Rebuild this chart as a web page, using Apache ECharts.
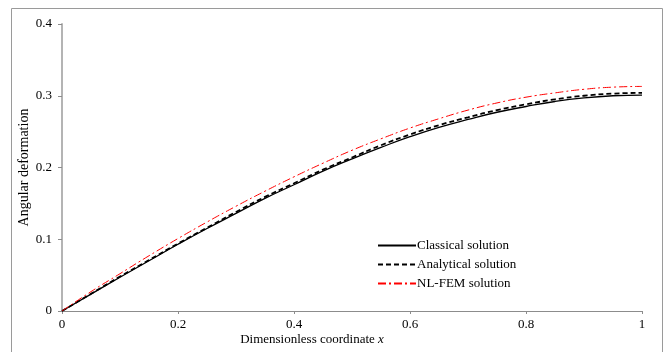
<!DOCTYPE html>
<html>
<head>
<meta charset="utf-8">
<script src="https://cdn.jsdelivr.net/npm/echarts@6/dist/echarts.min.js"></script>
<style>
  html, body { margin: 0; padding: 0; background: #fff; }
  #main { width: 667px; height: 352px; }
</style>
</head>
<body>
<div id="main"></div>
<script>
// dimensionless coordinate
const xs = [0, 0.05, 0.1, 0.15, 0.2, 0.25, 0.3, 0.35, 0.4, 0.45, 0.5, 0.55, 0.6, 0.65, 0.7, 0.75, 0.8, 0.85, 0.9, 0.95, 1]
// angular deformation
const classical = [0, 0.0235, 0.047, 0.070, 0.093, 0.115, 0.136, 0.157, 0.176, 0.195, 0.212, 0.228, 0.243, 0.256, 0.267, 0.277, 0.285, 0.292, 0.297, 0.300, 0.301]
const analytical = [0, 0.024, 0.048, 0.071, 0.094, 0.116, 0.138, 0.159, 0.178, 0.197, 0.214, 0.231, 0.246, 0.259, 0.270, 0.280, 0.288, 0.295, 0.300, 0.303, 0.304]
const nlfem = [0, 0.027, 0.052, 0.077, 0.101, 0.124, 0.146, 0.167, 0.187, 0.206, 0.224, 0.240, 0.255, 0.268, 0.280, 0.290, 0.298, 0.304, 0.309, 0.312, 0.313]

const pairs = (ys) => xs.map((x, i) => [x, ys[i]])
const font = 'Liberation Serif'

const chart = echarts.init(document.getElementById('main'))

const option = {
  animation: false,
  textStyle: { fontFamily: font },
  grid: { left: 62, right: 25, top: 24, bottom: 41 },
  graphic: [
    {
      type: 'rect',
      shape: { x: 11.5, y: 8.5, width: 651, height: 360 },
      style: { fill: 'none', stroke: '#9a9a9a', lineWidth: 1 },
      silent: true
    }
  ],
  legend: {
    left: 372,
    top: 234,
    orient: 'vertical',
    itemWidth: 38,
    itemHeight: 14,
    itemGap: 6,
    itemStyle: { opacity: 0 },
    textStyle: { fontFamily: font, fontSize: 13, color: '#000', padding: [0, 0, 0, -4] },
    data: ['Classical solution', 'Analytical solution', 'NL-FEM solution']
  },
  xAxis: {
    type: 'value',
    min: 0,
    max: 1,
    interval: 0.2,
    name: 'Dimensionless coordinate {i|x}',
    nameLocation: 'middle',
    nameGap: 22,
    nameMoveOverlap: false,
    nameTextStyle: {
      fontFamily: font, fontSize: 13, color: '#000', padding: [0, 80, 0, 0],
      rich: { i: { fontFamily: font, fontSize: 13, fontStyle: 'italic', color: '#000' } }
    },
    axisLine: { lineStyle: { color: '#8c8c8c', width: 1 } },
    axisTick: { show: true, length: 3, lineStyle: { color: '#8c8c8c' } },
    axisLabel: { fontFamily: font, fontSize: 13, color: '#000', margin: 7 },
    splitLine: { show: false }
  },
  yAxis: {
    type: 'value',
    min: 0,
    max: 0.4,
    interval: 0.1,
    name: 'Angular deformation',
    nameLocation: 'middle',
    nameGap: 31,
    nameMoveOverlap: false,
    nameTextStyle: { fontFamily: font, fontSize: 14, color: '#000' },
    axisLine: { show: true, lineStyle: { color: '#b4b4b4', width: 2 } },
    axisTick: { show: true, length: 4, lineStyle: { color: '#8c8c8c' } },
    axisLabel: { fontFamily: font, fontSize: 13, color: '#000', margin: 10 },
    splitLine: { show: false }
  },
  series: [
    {
      name: 'Classical solution',
      type: 'line',
      showSymbol: false,
      symbol: 'none',
      smooth: true,
      lineStyle: { color: '#000', width: 1.3, type: 'solid' },
      itemStyle: { color: '#000' },
      data: pairs(classical)
    },
    {
      name: 'Analytical solution',
      type: 'line',
      showSymbol: false,
      symbol: 'none',
      smooth: true,
      lineStyle: { color: '#000', width: 1.8, type: [5, 3] },
      itemStyle: { color: '#000' },
      data: pairs(analytical)
    },
    {
      name: 'NL-FEM solution',
      type: 'line',
      showSymbol: false,
      symbol: 'none',
      smooth: true,
      lineStyle: { color: '#ff0000', width: 1, type: [8, 3, 2, 3] },
      itemStyle: { color: '#ff0000' },
      data: pairs(nlfem)
    }
  ]
}

chart.setOption(option)
</script>
</body>
</html>
